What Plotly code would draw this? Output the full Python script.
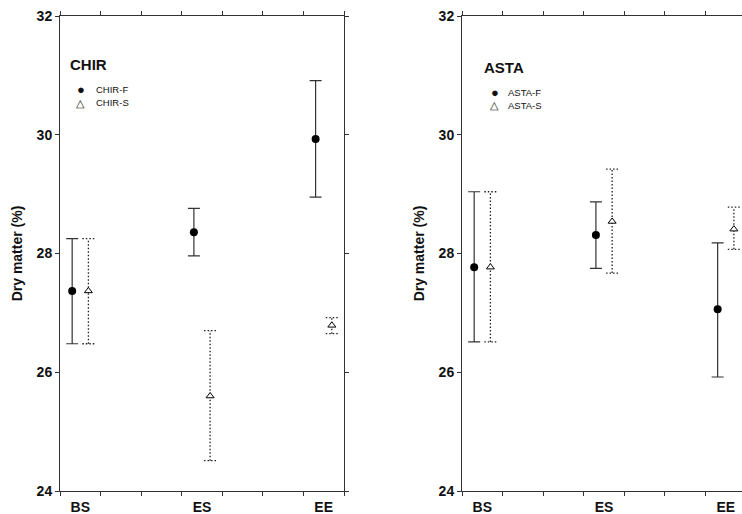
import plotly.graph_objects as go

# ---------------- data ----------------
categories = ["BS", "ES", "EE"]

chir_f = [27.37, 28.36, 29.93]
chir_f_hi = [28.25, 28.76, 30.91]
chir_f_lo = [26.48, 27.96, 28.95]

chir_s = [27.37, 25.60, 26.79]
chir_s_hi = [28.25, 26.70, 26.92]
chir_s_lo = [26.48, 24.51, 26.65]

asta_f = [27.77, 28.31, 27.06]
asta_f_hi = [29.04, 28.87, 28.18]
asta_f_lo = [26.51, 27.75, 25.92]

asta_s = [27.77, 28.54, 28.41]
asta_s_hi = [29.04, 29.42, 28.78]
asta_s_lo = [26.51, 27.67, 28.07]

y_ticks = [24, 26, 28, 30, 32]

# ---------------- layout constants ----------------
W, H = 742, 514
MT, MB = 16, 23
CAT_POS = [0.5, 3.5, 6.5]
OFF = 0.2
CAP = 0.15
FONT = "Liberation Sans, Arial, sans-serif"
AX = "#333333"


def px_x(p):
    return p / W


def px_y(p):
    return (H - MB - p) / (H - MT - MB)


fig = go.Figure()


def add_series(vals, hi, lo, xs, ax, filled):
    xa = "x" if ax == 1 else "x2"
    ya = "y" if ax == 1 else "y2"
    if filled:
        fig.add_trace(go.Scatter(
            x=xs, y=vals, mode="markers", xaxis=xa, yaxis=ya,
            marker=dict(symbol="circle", size=8, color="black"),
            error_y=dict(type="data", symmetric=False,
                         array=[h - v for h, v in zip(hi, vals)],
                         arrayminus=[v - l for v, l in zip(vals, lo)],
                         color=AX, thickness=1.2, width=6),
            showlegend=False))
    else:
        lx, ly = [], []
        for x, h, l in zip(xs, hi, lo):
            lx += [x, x, None, x - CAP, x + CAP, None, x - CAP, x + CAP, None]
            ly += [l, h, None, h, h, None, l, l, None]
        fig.add_trace(go.Scatter(
            x=lx, y=ly, mode="lines", xaxis=xa, yaxis=ya,
            line=dict(color="#222222", width=1.3, dash="1.5px,2px"),
            showlegend=False, hoverinfo="skip"))
        fig.add_trace(go.Scatter(
            x=xs, y=vals, mode="markers", xaxis=xa, yaxis=ya,
            marker=dict(symbol="triangle-up", size=7, color="white",
                        line=dict(color="black", width=1)),
            showlegend=False))


xf = [c - OFF for c in CAT_POS]
xs_ = [c + OFF for c in CAT_POS]

add_series(chir_s, chir_s_hi, chir_s_lo, xs_, 1, False)
add_series(chir_f, chir_f_hi, chir_f_lo, xf, 1, True)
add_series(asta_s, asta_s_hi, asta_s_lo, xs_, 2, False)
add_series(asta_f, asta_f_hi, asta_f_lo, xf, 2, True)

xcommon = dict(
    tickvals=CAT_POS, ticktext=categories, ticks="", ticklen=0,
    ticklabelstandoff=3,
    tickfont=dict(family=FONT, size=14, color="#111", weight="bold"),
    showline=True, linecolor=AX, linewidth=1, mirror="ticks",
    showgrid=False, zeroline=False,
    minor=dict(tickvals=list(range(8)), ticks="outside", ticklen=4,
               tickcolor=AX, tickwidth=1, showgrid=False),
)
ycommon = dict(
    range=[24, 32], tickvals=y_ticks, ticks="outside", ticklen=4,
    tickcolor=AX, tickwidth=1,
    tickfont=dict(family=FONT, size=14, color="#111", weight="bold"),
    showline=True, linecolor=AX, linewidth=1,
    showgrid=False, zeroline=False,
    title=dict(text="Dry matter (%)",
               font=dict(family=FONT, size=14, color="#111", weight="bold"),
               standoff=10),
)

fig.update_layout(
    width=W, height=H,
    margin=dict(l=0, r=0, t=MT, b=MB),
    paper_bgcolor="white", plot_bgcolor="white",
    xaxis=dict(domain=[60 / W, 344 / W], range=[0, 7], **xcommon),
    yaxis=dict(anchor="x", mirror="ticks", **ycommon),
    xaxis2=dict(domain=[462 / W, 1.0], range=[0, 6.9], anchor="y2", **xcommon),
    yaxis2=dict(anchor="x2", mirror=False, **ycommon),
    showlegend=False,
)

annos = [
    dict(text="<b>CHIR</b>", x=px_x(68), y=px_y(64), size=15, xa="left"),
    dict(text="<b>ASTA</b>", x=px_x(482), y=px_y(67), size=15, xa="left"),
    dict(text="CHIR-F", x=px_x(94), y=px_y(90), size=9.5, xa="left"),
    dict(text="CHIR-S", x=px_x(94), y=px_y(102.5), size=9.5, xa="left"),
    dict(text="ASTA-F", x=px_x(506), y=px_y(92.5), size=9.5, xa="left"),
    dict(text="ASTA-S", x=px_x(506), y=px_y(105), size=9.5, xa="left"),
    dict(text="●", x=px_x(80.5), y=px_y(90), size=13, xa="center"),
    dict(text="△", x=px_x(80.5), y=px_y(102.5), size=11, xa="center"),
    dict(text="●", x=px_x(494.5), y=px_y(92.5), size=13, xa="center"),
    dict(text="△", x=px_x(494.5), y=px_y(105), size=11, xa="center"),
]
for a in annos:
    fig.add_annotation(text=a["text"], x=a["x"], y=a["y"], xref="paper", yref="paper",
                       xanchor=a["xa"], yanchor="middle", showarrow=False,
                       font=dict(family=FONT, size=a["size"], color="#111"))

fig.write_html(
    "out.html",
    config={"displayModeBar": False},
    post_script="document.body.style.margin='0';document.body.style.overflow='hidden';",
)
